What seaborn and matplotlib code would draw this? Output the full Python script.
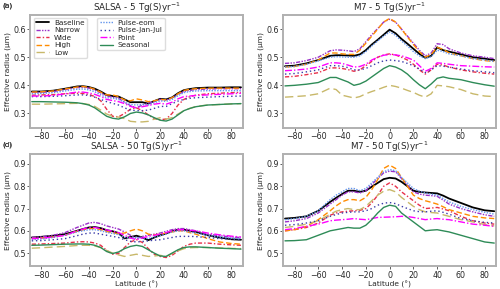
import numpy as np
import pandas as pd
import matplotlib
matplotlib.use("Agg")
import matplotlib.pyplot as plt
import seaborn as sns

lat = [-88, -80, -70, -60, -50, -45, -40, -35, -30, -25, -20, -15, -10, -5, 0,
       5, 10, 15, 20, 25, 30, 35, 40, 45, 50, 60, 70, 80, 88]

experiments = ["Baseline", "Narrow", "Wide", "High", "Low",
               "Pulse-eom", "Pulse-Jan-Jul", "Point", "Seasonal"]

# (a) SALSA - 5 Tg(S)/yr
salsa5_baseline = [.378, .378, .381, .388, .396, .397, .394, .388, .378, .366, .362, .360, .350, .340, .340, .340, .335, .344, .352, .350, .357, .372, .383, .387, .390, .392, .392, .393, .393]
salsa5_narrow = [.375, .375, .378, .385, .392, .393, .390, .383, .373, .362, .358, .354, .340, .328, .320, .330, .336, .343, .350, .348, .355, .368, .378, .382, .385, .387, .388, .388, .388]
salsa5_wide = [.365, .366, .367, .370, .372, .371, .368, .360, .345, .315, .290, .288, .300, .315, .320, .310, .295, .282, .278, .280, .300, .330, .350, .360, .365, .370, .372, .374, .375]
salsa5_high = [.376, .377, .380, .387, .394, .396, .393, .386, .376, .366, .366, .360, .348, .345, .352, .348, .342, .345, .350, .348, .356, .370, .382, .386, .388, .390, .390, .390, .390]
salsa5_low = [.333, .333, .334, .335, .336, .335, .332, .325, .312, .298, .290, .287, .282, .272, .270, .270, .272, .280, .285, .280, .285, .298, .310, .318, .325, .330, .332, .334, .335]
salsa5_eom = [.370, .371, .374, .380, .386, .387, .384, .377, .366, .356, .354, .350, .340, .332, .330, .332, .330, .338, .345, .343, .350, .363, .374, .378, .380, .381, .381, .381, .381]
salsa5_janjul = [.360, .360, .361, .363, .366, .366, .364, .358, .350, .342, .336, .330, .320, .312, .310, .310, .312, .318, .325, .325, .335, .344, .350, .354, .356, .358, .360, .361, .362]
salsa5_point = [.362, .362, .364, .370, .376, .376, .373, .368, .360, .350, .346, .342, .335, .325, .320, .324, .328, .333, .336, .333, .340, .352, .360, .362, .364, .366, .368, .370, .372]
salsa5_seasonal = [.342, .342, .341, .340, .338, .335, .330, .320, .305, .290, .283, .280, .288, .300, .305, .302, .295, .285, .276, .273, .280, .295, .310, .318, .324, .330, .332, .334, .335]

# (b) M7 - 5 Tg(S)/yr
m75_baseline = [.468, .470, .478, .490, .505, .507, .507, .506, .505, .510, .525, .545, .562, .580, .598, .585, .565, .548, .530, .512, .498, .505, .535, .525, .520, .510, .500, .495, .490]
m75_narrow = [.478, .480, .488, .500, .523, .526, .525, .523, .520, .530, .555, .580, .602, .625, .635, .625, .600, .575, .550, .525, .505, .515, .548, .545, .530, .515, .505, .500, .495]
m75_wide = [.430, .432, .438, .445, .462, .462, .460, .456, .450, .455, .470, .485, .500, .508, .512, .508, .500, .490, .475, .455, .440, .455, .475, .472, .465, .455, .448, .443, .440]
m75_high = [.465, .467, .475, .490, .515, .515, .512, .510, .510, .525, .550, .575, .600, .625, .638, .625, .600, .572, .545, .520, .500, .510, .535, .528, .515, .505, .495, .488, .485]
m75_low = [.358, .360, .363, .370, .390, .385, .365, .360, .355, .360, .370, .378, .385, .393, .400, .396, .390, .382, .375, .365, .358, .370, .400, .398, .395, .385, .370, .362, .360]
m75_eom = [.465, .467, .475, .487, .500, .502, .501, .500, .500, .505, .520, .540, .558, .575, .590, .578, .558, .540, .520, .505, .495, .502, .525, .520, .512, .505, .495, .490, .485]
m75_janjul = [.440, .442, .448, .455, .470, .470, .468, .463, .455, .455, .460, .470, .480, .487, .490, .488, .485, .478, .470, .458, .445, .455, .470, .468, .465, .458, .452, .448, .445]
m75_point = [.452, .454, .458, .465, .480, .480, .478, .472, .465, .467, .475, .490, .500, .507, .510, .508, .505, .498, .490, .470, .450, .460, .480, .478, .475, .470, .468, .466, .465]
m75_seasonal = [.398, .400, .404, .410, .428, .428, .420, .412, .400, .405, .415, .430, .445, .460, .470, .465, .455, .440, .420, .402, .388, .405, .425, .430, .425, .420, .410, .402, .397]

# (c) SALSA - 50 Tg(S)/yr
salsa50_baseline = [.570, .573, .578, .585, .600, .608, .615, .617, .612, .603, .598, .590, .566, .572, .578, .570, .558, .570, .580, .588, .598, .605, .605, .600, .595, .580, .570, .562, .560]
salsa50_narrow = [.570, .573, .580, .592, .615, .625, .635, .638, .632, .622, .615, .608, .595, .580, .565, .575, .580, .585, .590, .598, .605, .610, .610, .605, .600, .585, .578, .572, .570]
salsa50_wide = [.540, .541, .543, .545, .550, .551, .550, .545, .535, .512, .495, .498, .525, .550, .560, .548, .520, .495, .485, .480, .490, .510, .530, .540, .545, .545, .540, .537, .535]
salsa50_high = [.565, .567, .572, .580, .598, .605, .610, .610, .605, .597, .590, .588, .590, .600, .608, .600, .585, .582, .585, .590, .595, .600, .600, .592, .585, .565, .550, .543, .540]
salsa50_low = [.522, .524, .527, .530, .534, .535, .535, .532, .525, .512, .500, .492, .485, .490, .495, .490, .485, .487, .490, .485, .498, .510, .520, .524, .525, .525, .523, .521, .520]
salsa50_eom = [.560, .563, .570, .580, .595, .600, .605, .605, .600, .593, .588, .583, .570, .568, .570, .568, .565, .572, .578, .585, .595, .600, .600, .595, .590, .580, .572, .567, .565]
salsa50_janjul = [.555, .556, .560, .565, .578, .585, .590, .590, .585, .580, .575, .570, .560, .553, .550, .552, .555, .558, .560, .565, .570, .575, .575, .575, .574, .570, .565, .562, .560]
salsa50_point = [.565, .567, .572, .580, .600, .608, .615, .615, .610, .604, .598, .592, .580, .568, .560, .568, .575, .580, .585, .592, .600, .605, .605, .602, .600, .590, .582, .576, .572]
salsa50_seasonal = [.535, .536, .538, .540, .541, .541, .540, .535, .525, .507, .498, .505, .520, .530, .535, .530, .515, .500, .487, .485, .500, .515, .525, .528, .528, .525, .522, .520, .518]

# (d) M7 - 50 Tg(S)/yr
m750_baseline = [.655, .658, .665, .690, .730, .748, .765, .780, .780, .775, .780, .798, .815, .832, .838, .835, .820, .800, .780, .775, .772, .770, .768, .758, .745, .725, .705, .692, .688]
m750_narrow = [.640, .645, .655, .680, .720, .740, .760, .775, .775, .770, .780, .808, .835, .860, .868, .865, .835, .805, .775, .765, .760, .758, .755, .738, .720, .700, .685, .672, .665]
m750_wide = [.600, .605, .615, .635, .670, .680, .685, .688, .690, .692, .700, .725, .760, .800, .815, .800, .775, .755, .735, .715, .700, .702, .705, .698, .690, .665, .645, .635, .630]
m750_high = [.600, .605, .620, .650, .690, .712, .730, .740, .740, .735, .750, .785, .830, .880, .895, .880, .840, .800, .760, .745, .735, .728, .720, .708, .695, .680, .665, .658, .655]
m750_low = [.615, .620, .630, .645, .675, .688, .695, .700, .695, .695, .710, .735, .760, .778, .785, .775, .750, .730, .710, .695, .685, .682, .680, .672, .665, .650, .640, .628, .622]
m750_eom = [.650, .655, .665, .690, .740, .760, .775, .790, .790, .780, .790, .815, .840, .865, .875, .870, .840, .815, .790, .778, .770, .765, .760, .745, .730, .710, .695, .683, .675]
m750_janjul = [.625, .628, .635, .645, .665, .673, .680, .683, .685, .685, .690, .700, .715, .724, .727, .722, .710, .700, .690, .686, .685, .688, .690, .683, .675, .655, .645, .638, .635]
m750_point = [.605, .610, .620, .630, .645, .648, .650, .652, .655, .652, .650, .655, .660, .661, .662, .663, .665, .664, .660, .655, .650, .653, .655, .652, .650, .640, .630, .625, .620]
m750_seasonal = [.555, .556, .560, .580, .600, .605, .610, .615, .612, .612, .625, .650, .680, .705, .715, .710, .680, .660, .640, .620, .600, .603, .605, .600, .595, .580, .565, .550, .545]

panels = [
    ("(a)", "SALSA - 5 Tg(S)yr$^{-1}$",
     [salsa5_baseline, salsa5_narrow, salsa5_wide, salsa5_high, salsa5_low,
      salsa5_eom, salsa5_janjul, salsa5_point, salsa5_seasonal]),
    ("(b)", "M7 - 5 Tg(S)yr$^{-1}$",
     [m75_baseline, m75_narrow, m75_wide, m75_high, m75_low,
      m75_eom, m75_janjul, m75_point, m75_seasonal]),
    ("(c)", "SALSA - 50 Tg(S)yr$^{-1}$",
     [salsa50_baseline, salsa50_narrow, salsa50_wide, salsa50_high, salsa50_low,
      salsa50_eom, salsa50_janjul, salsa50_point, salsa50_seasonal]),
    ("(d)", "M7 - 50 Tg(S)yr$^{-1}$",
     [m750_baseline, m750_narrow, m750_wide, m750_high, m750_low,
      m750_eom, m750_janjul, m750_point, m750_seasonal]),
]

colors = {
    "Baseline": "black", "Narrow": "#9b30c8", "Wide": "#e8304a",
    "High": "darkorange", "Low": "#c8b86a", "Pulse-eom": "cornflowerblue",
    "Pulse-Jan-Jul": "#3a3aa8", "Point": "magenta", "Seasonal": "seagreen",
}
dashes = {
    "Baseline": "", "Narrow": (3, 1, 1, 1, 1, 1), "Wide": (3, 1.5, 1, 1.5),
    "High": (4, 2), "Low": (6, 3), "Pulse-eom": (1, 1),
    "Pulse-Jan-Jul": (1, 2), "Point": (5, 1.5, 1, 1.5), "Seasonal": "",
}

sns.set_theme(style="ticks")
plt.rcParams["font.family"] = ["DejaVu Sans"]

fig, axes = plt.subplots(2, 2, figsize=(5, 2.89), dpi=100)
fig.subplots_adjust(left=0.06, right=0.992, top=0.948, bottom=0.078,
                    wspace=0.19, hspace=0.235)

for ax, (tag, title, series) in zip(axes.flat, panels):
    df = pd.DataFrame({
        "lat": np.tile(lat, len(experiments)),
        "reff": np.concatenate(series),
        "exp": np.repeat(experiments, len(lat)),
    })
    sns.lineplot(data=df, x="lat", y="reff", hue="exp", style="exp",
                 palette=colors, dashes=dashes, linewidth=1.0,
                 legend=False, ax=ax)
    for ln in ax.get_lines():
        if ln.get_color() == "black":
            ln.set_linewidth(1.3)
    ax.set_title(title, fontsize=6.3, pad=1.5)
    ax.set_xlim(-89.5, 89.5)
    ax.set_xticks(np.arange(-80, 81, 20))
    ax.tick_params(labelsize=5.7, length=2, width=0.6, pad=1.0, color="#444444")
    ax.set_ylabel("Effective radius (μm)", fontsize=5.4, labelpad=2)
    ax.set_xlabel("")
    for sp in ax.spines.values():
        sp.set_color("#b0b0b0")
        sp.set_linewidth(1.4)
    pos = ax.get_position()
    fig.text(0.004, pos.y1 + 0.031, tag, fontsize=5.2, ha="left", va="center")

for ax in axes[0]:
    ax.set_ylim(0.25, 0.65)
    ax.set_yticks([0.3, 0.4, 0.5, 0.6])
for ax in axes[1]:
    ax.set_ylim(0.44, 0.945)
    ax.set_yticks([0.5, 0.6, 0.7, 0.8, 0.9])
    ax.set_xlabel("Latitude (°)", fontsize=5.4, labelpad=0.5)

# two legend boxes in panel (a)
ax = axes[0, 0]
lines = ax.get_lines()[:len(experiments)]
leg_kw = dict(loc="upper left", fontsize=5.2, handlelength=1.9,
              labelspacing=0.2, borderpad=0.3, handletextpad=0.6,
              borderaxespad=0.2, framealpha=1, edgecolor="#dddddd")
leg1 = ax.legend(lines[:5], experiments[:5], bbox_to_anchor=(0.01, 0.99), **leg_kw)
ax.add_artist(leg1)
ax.legend(lines[5:], experiments[5:], bbox_to_anchor=(0.31, 0.99), **leg_kw)

fig.savefig("out.png", dpi=100)
